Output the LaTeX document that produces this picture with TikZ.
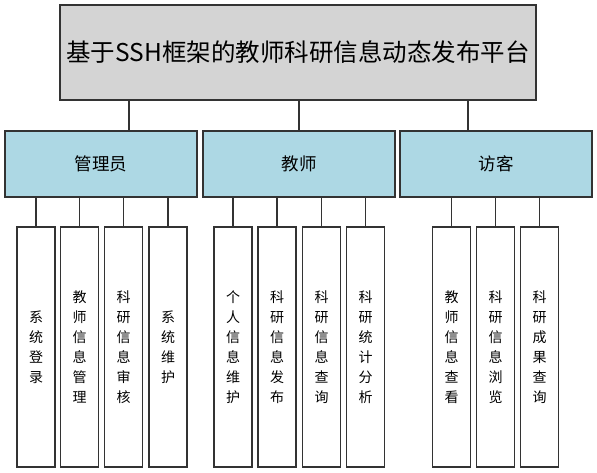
\documentclass[tikz,border=0pt]{standalone}
\usepackage{fontspec}
\setmainfont{Noto Sans CJK SC}
\begin{document}
\begin{tikzpicture}[x=1pt,y=-1pt,
  base/.style={draw=linegray,line width=1.2pt,inner sep=0pt,align=center,anchor=center},
  topbox/.style={base,fill=boxgray,minimum width=476pt,minimum height=95pt,font=\fontsize{24.5}{28}\selectfont},
  midbox/.style={base,fill=boxblue,minimum width=192pt,minimum height=66pt,font=\fontsize{17.5}{20}\selectfont},
  leafbox/.style={base,fill=white,minimum width=38pt,minimum height=240pt,text width=38pt,font=\fontsize{14}{20}\selectfont},
  conn/.style={draw=linegray,line width=1.2pt}]
\definecolor{linegray}{HTML}{333333}
\definecolor{boxgray}{HTML}{D4D4D4}
\definecolor{boxblue}{HTML}{ADD8E4}
\useasboundingbox (0,0) rectangle (597,473);
\fill[white] (0,0) rectangle (597,473);
\node[topbox] (top) at (298,52.5) {基于SSH框架的教师科研信息动态发布平台};
\node[midbox] (m1) at (101,164) {管理员};
\node[midbox] (m2) at (299,164) {教师};
\node[midbox] (m3) at (496,164) {访客};
\coordinate (c1) at (129,0);
\coordinate (c2) at (299,0);
\coordinate (c3) at (468,0);
\draw[conn] (top.south -| c1) -- (m1.north -| c1);
\draw[conn] (top.south -| c2) -- (m2.north -| c2);
\draw[conn] (top.south -| c3) -- (m3.north -| c3);
\node[leafbox] (a1) at (36,347) {系\\统\\登\\录};
\node[leafbox] (a2) at (79.5,347) {教\\师\\信\\息\\管\\理};
\node[leafbox] (a3) at (123.5,347) {科\\研\\信\\息\\审\\核};
\node[leafbox] (a4) at (168,347) {系\\统\\维\\护};
\node[leafbox] (b1) at (233,347) {个\\人\\信\\息\\维\\护};
\node[leafbox] (b2) at (277,347) {科\\研\\信\\息\\发\\布};
\node[leafbox] (b3) at (321.5,347) {科\\研\\信\\息\\查\\询};
\node[leafbox] (b4) at (365.5,347) {科\\研\\统\\计\\分\\析};
\node[leafbox] (d1) at (451.5,347) {教\\师\\信\\息\\查\\看};
\node[leafbox] (d2) at (495.5,347) {科\\研\\信\\息\\浏\\览};
\node[leafbox] (d3) at (539.5,347) {科\\研\\成\\果\\查\\询};
\foreach \l/\m in {a1/m1,a2/m1,a3/m1,a4/m1,b1/m2,b2/m2,b3/m2,b4/m2,d1/m3,d2/m3,d3/m3}
  \draw[conn] (\l.north) -- (\l.north |- \m.south);
\end{tikzpicture}
\end{document}
